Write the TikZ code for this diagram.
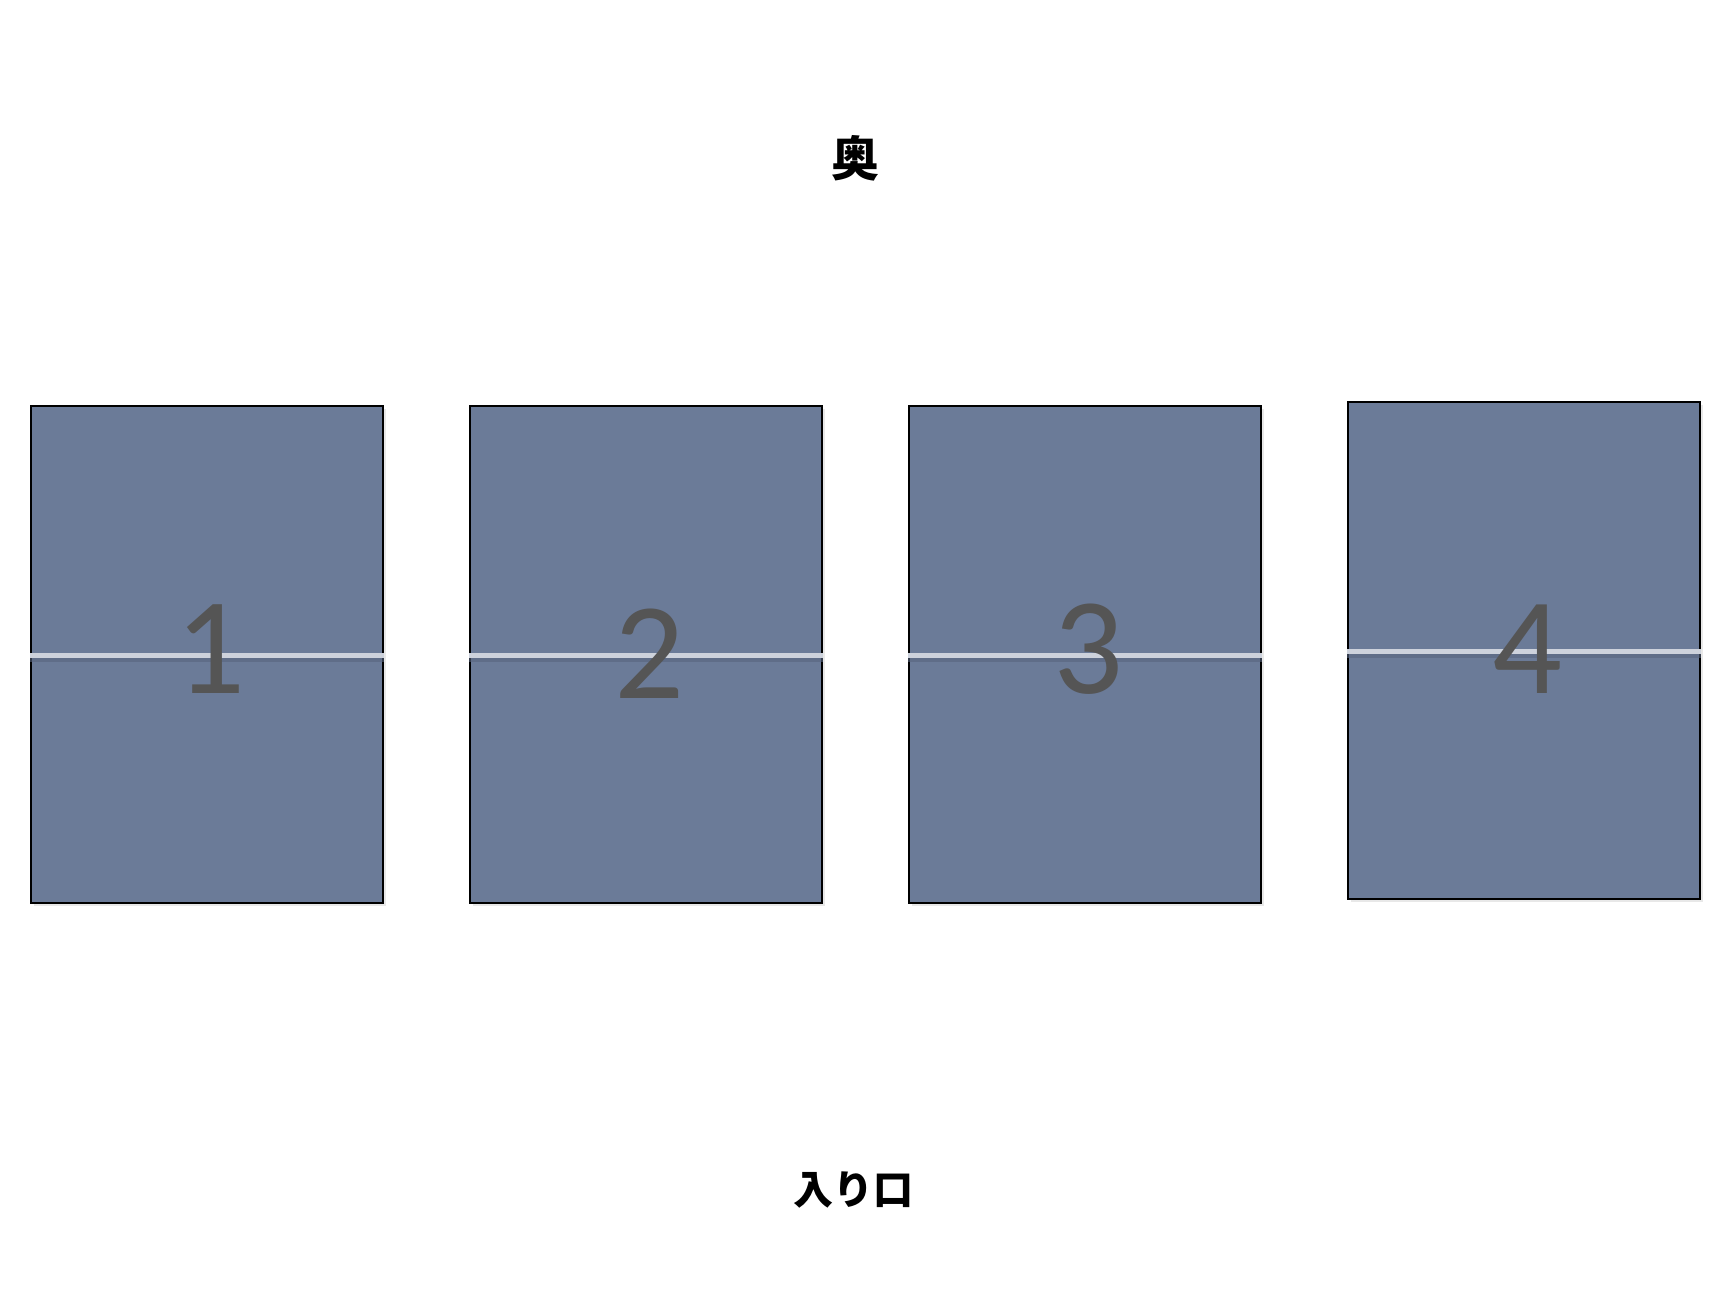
\documentclass[tikz,border=0pt]{standalone}
\usepackage{fontspec}
\setmainfont{Carlito}
\newfontfamily\jpfont{Noto Sans CJK JP}
\usetikzlibrary{shadows}
\definecolor{boxfill}{RGB}{107,123,152}
\definecolor{numcol}{RGB}{85,85,85}
\definecolor{seamcol}{RGB}{205,210,220}
\definecolor{seamshade}{RGB}{88,101,126}
\tikzset{
  booth/.style={draw=black, line width=1pt, fill=boxfill, rectangle,
    minimum width=176pt, minimum height=248.5pt, inner sep=0pt,
    drop shadow={opacity=0.18, shadow xshift=1.5pt, shadow yshift=-1.5pt}},
  boothnum/.style={font=\fontsize{69}{69}\selectfont, text=numcol, anchor=base, inner sep=0pt},
  seam/.style={draw=seamcol, line width=2.5pt},
  seamshadow/.style={draw=seamshade, line width=2pt, opacity=0.6},
  jplabel/.style={font=\jpfont\bfseries\fontsize{#1}{#1}\selectfont, text=black, inner sep=0pt}
}
\begin{document}
\begin{tikzpicture}[x=0.5pt,y=-0.5pt]
  \useasboundingbox (0,0) rectangle (1722,1290);
%%
  % Node: back
  \node [jplabel=24] (back) at (855,158) {奥};
  % Node: entrance
  \node [jplabel=20] (entrance) at (853,1190) {入り口};
  % Node: 1
  \node [booth] (b1) at (207,654.5) {};
  % Node: 2
  \node [booth] (b2) at (646,654.5) {};
  % Node: 3
  \node [booth] (b3) at (1085,654.5) {};
  % Node: 4
  \node [booth] (b4) at (1524,650.5) {};
  % Seams
  \draw [seamshadow] ([yshift=-2.75pt]b1.west) -- ([yshift=-2.75pt]b1.east);
  \draw [seam] ([yshift=-0.25pt]b1.west) -- ([yshift=-0.25pt]b1.east);
  \draw [seamshadow] ([yshift=-2.75pt]b2.west) -- ([yshift=-2.75pt]b2.east);
  \draw [seam] ([yshift=-0.25pt]b2.west) -- ([yshift=-0.25pt]b2.east);
  \draw [seamshadow] ([yshift=-2.75pt]b3.west) -- ([yshift=-2.75pt]b3.east);
  \draw [seam] ([yshift=-0.25pt]b3.west) -- ([yshift=-0.25pt]b3.east);
  \draw [seamshadow] ([yshift=-2.75pt]b4.west) -- ([yshift=-2.75pt]b4.east);
  \draw [seam] ([yshift=-0.25pt]b4.west) -- ([yshift=-0.25pt]b4.east);
  % Numbers
  \node [boothnum] (n1) at (210,693) {1};
  \node [boothnum] (n2) at (649,698) {2};
  \node [boothnum] (n3) at (1088,693) {3};
  \node [boothnum] (n4) at (1527,693) {4};
%
\end{tikzpicture}
\end{document}
